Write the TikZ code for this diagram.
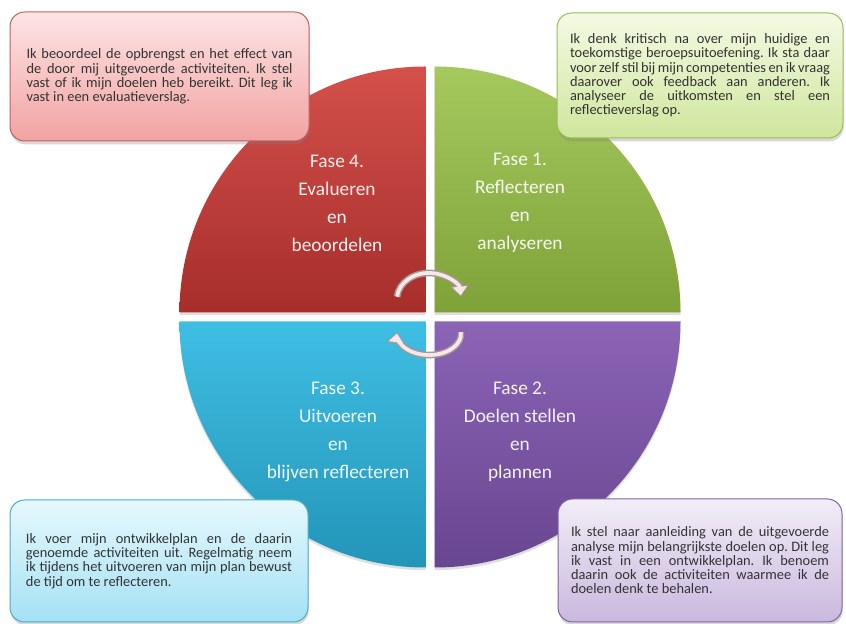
\documentclass[tikz,border=0pt]{standalone}
\usepackage{fontspec}
\setmainfont{Carlito}
\usetikzlibrary{backgrounds}
\usetikzlibrary{shadows}
\usetikzlibrary{arrows.meta}

\definecolor{redtop}{HTML}{D4504B}
\definecolor{redbot}{HTML}{A62E2B}
\definecolor{greentop}{HTML}{A6C95E}
\definecolor{greenbot}{HTML}{7EA238}
\definecolor{bluetop}{HTML}{3FBEE3}
\definecolor{bluebot}{HTML}{2395B8}
\definecolor{purpletop}{HTML}{8B64B6}
\definecolor{purplebot}{HTML}{694690}
\definecolor{redboxtop}{HTML}{FDE4E4}
\definecolor{redboxbot}{HTML}{F2A2A2}
\definecolor{redborder}{HTML}{C0605D}
\definecolor{greenboxtop}{HTML}{F4FAE4}
\definecolor{greenboxbot}{HTML}{CFE69C}
\definecolor{greenborder}{HTML}{9BBB59}
\definecolor{blueboxtop}{HTML}{E6F8FD}
\definecolor{blueboxbot}{HTML}{A4E1F4}
\definecolor{blueborder}{HTML}{4BACC6}
\definecolor{purpleboxtop}{HTML}{F2EDF7}
\definecolor{purpleboxbot}{HTML}{C9B8DE}
\definecolor{purpleborder}{HTML}{8064A2}
\definecolor{boxtext}{HTML}{333333}
\definecolor{turnrim}{HTML}{A99494}
\definecolor{turnfill}{HTML}{F4E8E8}

\newcommand{\jline}[1]{\makebox[\linewidth][s]{#1}\\}

\begin{document}
\begin{tikzpicture}[
    x=0.75pt, y=0.75pt,
    show background rectangle,
    tight background,
    background rectangle/.style={fill=white},
    font=\fontsize{10.8}{10.7}\selectfont\frenchspacing,
    fasepart/.style={drop shadow={shadow xshift=0pt, shadow yshift=-2pt, opacity=0.25}},
    fasetext/.style={text=white, text opacity=0.92, align=center, font=\fontsize{14.5}{21}\selectfont},
    infobox/.style={draw=#1border, line width=0.75pt, rounded corners=11pt,
        top color=#1boxtop, bottom color=#1boxbot, text=boxtext, align=justify,
        drop shadow={shadow xshift=0.5pt, shadow yshift=-2.5pt, opacity=0.3}},
    turnrimline/.style={draw=turnrim, line width=5pt, -{Triangle[length=8.5pt, width=14pt]}},
    turnfillline/.style={draw=turnfill, line width=2.8pt, shorten >=1pt, -{Triangle[length=6.5pt, width=10.5pt]}},
 ]
    \useasboundingbox (0,0) rectangle (846,624);

    \coordinate (Q4) at (425.5,311.5);
    \coordinate (Q1) at (434.5,311.5);
    \coordinate (Q3) at (425.5,302.5);
    \coordinate (Q2) at (434.5,302.5);

    \path[fasepart, top color=redtop, bottom color=redbot] (Q4) -- ++(-246,0) arc[start angle=180, end angle=90, radius=246] -- cycle;
    \path[fasepart, top color=greentop, bottom color=greenbot] (Q1) -- ++(0,246) arc[start angle=90, end angle=0, radius=246] -- cycle;
    \path[fasepart, top color=bluetop, bottom color=bluebot] (Q3) -- ++(-246,0) arc[start angle=180, end angle=270, radius=246] -- cycle;
    \path[fasepart, top color=purpletop, bottom color=purplebot] (Q2) -- ++(246,0) arc[start angle=0, end angle=-90, radius=246] -- cycle;

    \node[fasetext] (F4) at (337,421) {Fase 4.\\Evalueren\\en\\beoordelen};
    \node[fasetext] (F1) at (520,421) {Fase 1.\\Reflecteren\\en\\analyseren};
    \node[fasetext] (F3) at (338,192) {Fase 3.\\Uitvoeren\\en\\blijven reflecteren};
    \node[fasetext] (F2) at (520,192) {Fase 2.\\Doelen stellen\\en\\plannen};

    \coordinate (S1) at (397.1,327.3);
    \coordinate (S2) at (460.9,291.8);
    \draw[turnrimline] (S1) arc[start angle=175, end angle=5, x radius=32, y radius=26];
    \draw[turnfillline] (S1) arc[start angle=175, end angle=5, x radius=32, y radius=26];
    \draw[turnrimline] (S2) arc[start angle=5, end angle=-185, x radius=32, y radius=21];
    \draw[turnfillline] (S2) arc[start angle=5, end angle=-185, x radius=32, y radius=21];

    \node[infobox=red, minimum width=224.25pt, minimum height=96.75pt, text width=199.5pt] (B4) at (159.5,547.5) {%
        \jline{Ik beoordeel de opbrengst en het effect van}
        \jline{de door mij uitgevoerde activiteiten. Ik stel}
        \jline{vast of ik mijn doelen heb bereikt. Dit leg ik}
        vast in een evaluatieverslag.};
    \node[infobox=green, minimum width=214.5pt, minimum height=93.75pt, text width=195pt] (B1) at (700,548.5) {%
        \jline{Ik denk kritisch na over mijn huidige en}
        \jline{toekomstige beroepsuitoefening. Ik sta daar}
        \jline{voor zelf stil bij mijn competenties en ik vraag}
        \jline{daarover ook feedback aan anderen. Ik}
        \jline{analyseer de uitkomsten en stel een}
        reflectieverslag op.};
    \node[infobox=blue, minimum width=223.5pt, minimum height=91.5pt, text width=199.5pt] (B3) at (159,63) {%
        \jline{Ik voer mijn ontwikkelplan en de daarin}
        \jline{genoemde activiteiten uit. Regelmatig neem}
        \jline{ik tijdens het uitvoeren van mijn plan bewust}
        de tijd om te reflecteren.};
    \node[infobox=purple, minimum width=213pt, minimum height=92.25pt, text width=193.5pt] (B2) at (700,63.5) {%
        \jline{Ik stel naar aanleiding van de uitgevoerde}
        \jline{analyse mijn belangrijkste doelen op. Dit leg}
        \jline{ik vast in een ontwikkelplan. Ik benoem}
        \jline{daarin ook de activiteiten waarmee ik de}
        doelen denk te behalen.};

\end{tikzpicture}
\end{document}
